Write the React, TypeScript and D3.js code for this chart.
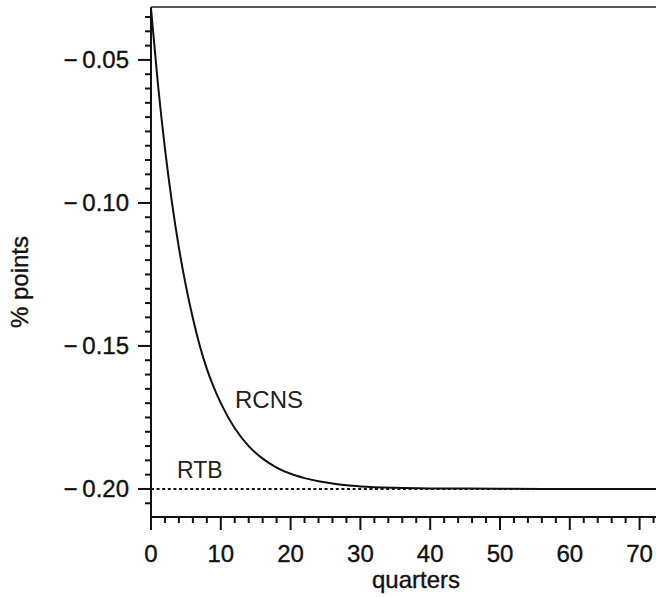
import React from "react";
import * as d3 from "d3";

// Response path (percentage points) by quarter
const quarters = [0, 1, 2, 3, 4, 5, 6, 7, 8, 9, 10, 12, 14, 16, 18, 20, 22, 24, 26, 28, 30, 35, 40, 50, 60, 73];
const rcns = [-0.032, -0.0586, -0.081, -0.0998, -0.1157, -0.129, -0.1403, -0.15, -0.158, -0.1645, -0.17, -0.1788, -0.185, -0.1894, -0.1925, -0.1947, -0.1962, -0.1973, -0.1981, -0.1987, -0.1991, -0.1996, -0.1998, -0.1999, -0.2, -0.2];
const rtbQuarters = [0, 73];
const rtb = [-0.2, -0.2];

const xTicks = [0, 10, 20, 30, 40, 50, 60, 70];
const yTicks = [-0.05, -0.1, -0.15, -0.2];
const seriesLabels = ["RCNS", "RTB"];

const W = 656;
const H = 597;
const left = 151;
const top = 7;
const bottom = 517;
const right = 656;

const font = "'Liberation Sans', Arial, Helvetica, sans-serif";

export default function App() {
  const x = d3.scaleLinear().domain([0, 72.35]).range([left, right]);
  const y = d3.scaleLinear().domain([-0.2098, -0.0315]).range([bottom, top]);

  const line = d3
    .line<number>()
    .x((_, i) => x(quarters[i]))
    .y((d) => y(d))
    .curve(d3.curveMonotoneX);

  const flat = d3
    .line<number>()
    .x((_, i) => x(rtbQuarters[i]))
    .y((d) => y(d));

  const xMinor = d3.range(0, 73, 2).filter((v) => v % 10 !== 0);
  const yMinor = d3
    .range(-0.205, -0.031, 0.005)
    .filter((v) => Math.abs(Math.round(v * 20) - v * 20) > 1e-6);

  const textStyle = { stroke: "#111", strokeWidth: 0.35 };

  return (
    <svg
      width={W}
      height={H}
      style={{ position: "absolute", left: 0, top: 0, background: "#fff" }}
      fontFamily={font}
    >
      {/* frame */}
      <line x1={left} x2={right} y1={top} y2={top} stroke="#555" strokeWidth={2} />
      <line x1={left} x2={left} y1={top} y2={bottom} stroke="#111" strokeWidth={2} />
      <line x1={left - 1} x2={right} y1={bottom} y2={bottom} stroke="#111" strokeWidth={2} />

      {/* y ticks */}
      {yTicks.map((t) => (
        <g key={"yt" + t}>
          <line x1={left - 13} x2={left} y1={y(t)} y2={y(t)} stroke="#111" strokeWidth={2} />
          <text
            x={129}
            y={y(t)}
            dy="0.35em"
            textAnchor="end"
            fontSize={24}
            fill="#111"
            style={textStyle}
          >
            {"\u2212\u2009" + d3.format(".2f")(Math.abs(t))}
          </text>
        </g>
      ))}
      {yMinor.map((t) => (
        <line key={"ym" + t} x1={left - 6} x2={left} y1={y(t)} y2={y(t)} stroke="#111" strokeWidth={2} />
      ))}

      {/* x ticks */}
      {xTicks.map((t) => (
        <g key={"xt" + t}>
          <line x1={x(t)} x2={x(t)} y1={bottom} y2={bottom + 13} stroke="#111" strokeWidth={2} />
          <text x={x(t)} y={562} textAnchor="middle" fontSize={24} fill="#111" style={textStyle}>
            {t}
          </text>
        </g>
      ))}
      {xMinor.map((t) => (
        <line key={"xm" + t} x1={x(t)} x2={x(t)} y1={bottom} y2={bottom + 6} stroke="#111" strokeWidth={2} />
      ))}

      {/* series */}
      <path d={flat(rtb) || ""} fill="none" stroke="#111" strokeWidth={2} strokeDasharray="3,2.6" />
      <path d={line(rcns) || ""} fill="none" stroke="#111" strokeWidth={2} />

      {/* series labels */}
      <text x={235} y={408} fontSize={24} fill="#222">
        {seriesLabels[0]}
      </text>
      <text x={177} y={478} fontSize={23} fill="#222">
        {seriesLabels[1]}
      </text>

      {/* axis titles */}
      <text x={416} y={588} textAnchor="middle" fontSize={24} fill="#111" style={textStyle}>
        quarters
      </text>
      <text
        transform={`translate(28,282) rotate(-90)`}
        textAnchor="middle"
        fontSize={24}
        fill="#111"
        style={textStyle}
      >
        % points
      </text>
    </svg>
  );
}
